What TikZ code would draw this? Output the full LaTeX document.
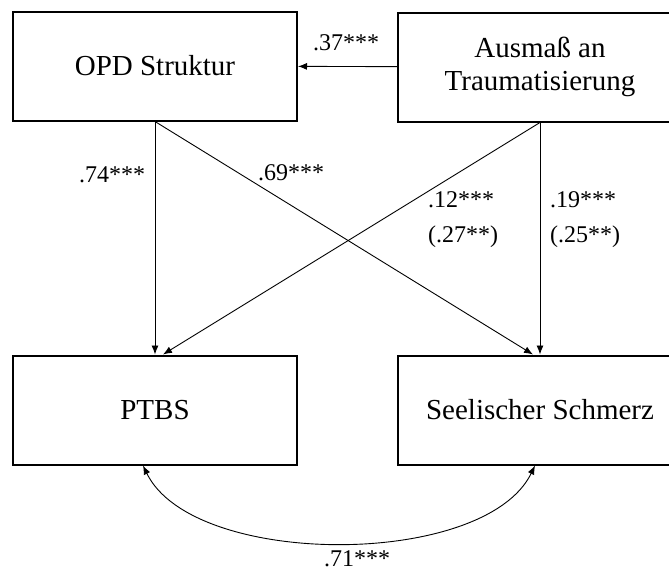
\documentclass[tikz,border=0pt]{standalone}
\usepackage{fontspec}
\setmainfont{Liberation Serif}
\usepackage{tikz}
\usetikzlibrary{arrows.meta}
\usetikzlibrary{positioning}

\tikzset{
  varbox/.style={draw, line width=2pt, minimum width=284pt, minimum height=109pt,
    align=center, font=\fontsize{29}{33}\selectfont},
  coef/.style={align=left, inner sep=0pt, font=\fontsize{24}{35}\selectfont},
  path_arrow/.style={line width=0.9pt, -{Latex[length=9pt,width=7pt]}},
}

\begin{document}
\begin{tikzpicture}[x=1pt, y=-1pt]
          \clip (0,0) rectangle (669,573);
          \fill[white] (0,0) rectangle (669,573);

          \node[varbox] (opd) at (155,66) {OPD Struktur};
          \node[varbox] (aus) at (540,67) {Ausmaß an\\Traumatisierung};
          \node[varbox] (ptbs) at (155,410) {PTBS};
          \node[varbox] (schmerz) at (540,410) {Seelischer Schmerz};

          \coordinate (ptbs_in) at ([xshift=8pt]ptbs.north);
          \coordinate (schmerz_in) at ([xshift=-7pt]schmerz.north);
          \coordinate (ptbs_low) at ([xshift=-12pt]ptbs.south);
          \coordinate (schmerz_low) at ([xshift=-5pt]schmerz.south);

          \draw[path_arrow] (aus) -- (opd);
          \draw[path_arrow] (opd.south) -- (ptbs.north);
          \draw[path_arrow] (opd.south) -- (schmerz_in);
          \draw[path_arrow] (aus.south) -- (ptbs_in);
          \draw[path_arrow] (aus.south) -- (schmerz.north);
          \draw[line width=0.9pt, {Latex[length=9pt,width=7pt]}-{Latex[length=9pt,width=7pt]}]
            (ptbs_low) .. controls +(50,103) and +(-50,103) .. (schmerz_low);

          \node[coef] (c37) at (346,43) {.37***};
          \node[coef] (c74) at (112,175) {.74***};
          \node[coef] (c69) at (291,173) {.69***};
          \node[coef] (c12) at (463,220) {.12***\\(.27**)};
          \node[coef] (c19) at (585,220) {.19***\\(.25**)};
          \node[coef] (c71) at (357,559) {.71***};
        \end{tikzpicture}
\end{document}
